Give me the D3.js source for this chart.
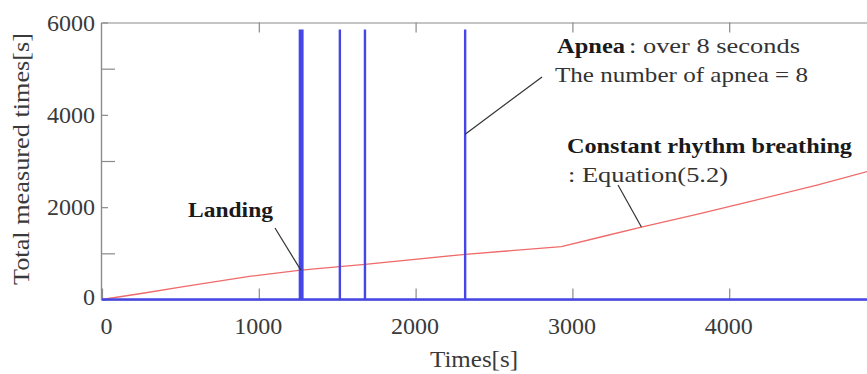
<!DOCTYPE html>
<html>
<head>
<meta charset="utf-8">
<script src="https://cdn.jsdelivr.net/npm/d3@7"></script>
<style>
  body { margin: 0; background: #fff; }
  svg { display: block; }
  text { font-family: "Liberation Serif", "DejaVu Serif", serif; }
</style>
</head>
<body>
<div id="chart"></div>
<script>
const breathTimes = [0, 250, 520, 950, 1268, 1517, 1677, 2316, 2930, 3200, 3440, 3800, 4130, 4560, 4900];
const breathTotals = [0, 130, 280, 505, 635, 711, 762, 979, 1144, 1370, 1570, 1850, 2118, 2480, 2790];

// apnea spikes (over 8 seconds), overlapping ones near 1270
const apneaTimes = [1262, 1270, 1278, 1517, 1677, 2316];
const apneaHeight = 5850;

const xTicks = [0, 1000, 2000, 3000, 4000];
const yTicks = [0, 2000, 4000, 6000];
const yMinorTicks = [1000, 3000, 5000];

const svgWidth = 867;
const svgHeight = 374;

const svg = d3.select("#chart")
    .append("svg")
    .attr("width", svgWidth)
    .attr("height", svgHeight);

const x = d3.scaleLinear()
    .domain([0, 5000])
    .range([102, 886]);

const y = d3.scaleLinear()
    .domain([0, 6000])
    .range([299.5, 22.5]);

const axisColor = "#8a8a8a";
const labelColor = "#3a3a3a";
const fmt = d3.format("d");

// top border with inward ticks
const topAxis = svg.append("g")
    .attr("transform", `translate(0, ${y(6000)})`)
    .call(d3.axisTop(x).tickValues([1000, 2000, 3000, 4000]).tickSizeInner(-10).tickSizeOuter(0).tickFormat(""));

// bottom axis
const bottomAxis = svg.append("g")
    .attr("transform", `translate(0, ${y(0)})`)
    .call(d3.axisBottom(x).tickValues(xTicks).tickSizeInner(-11).tickSizeOuter(0).tickPadding(17).tickFormat(fmt));

// left axis, labelled ticks short, odd thousands longer
const leftAxis = svg.append("g")
    .attr("transform", `translate(101, 0)`)
    .call(d3.axisLeft(y).tickValues(yTicks).tickSizeInner(-7).tickSizeOuter(0).tickPadding(6).tickFormat(fmt));

const leftMinor = svg.append("g")
    .attr("transform", `translate(101, 0)`)
    .call(d3.axisLeft(y).tickValues(yMinorTicks).tickSizeInner(-14).tickSizeOuter(0).tickFormat(""));

[topAxis, bottomAxis, leftAxis, leftMinor].forEach(g => {
    g.selectAll("path, line").attr("stroke", axisColor).attr("stroke-width", 1.2);
    g.selectAll("text")
        .attr("fill", labelColor)
        .style("font-size", "24px")
        .style("font-family", "Liberation Serif");
});
leftAxis.select(".tick:first-of-type text").attr("dy", "0.2em");
bottomAxis.selectAll(".tick text").attr("dx", d => d === 0 ? 4 : -1);

// red line: total measured time
const redLine = d3.line()
    .x((d, i) => x(breathTimes[i]))
    .y(d => y(d));

svg.append("path")
    .datum(breathTotals)
    .attr("fill", "none")
    .attr("stroke", "#f06a6a")
    .attr("stroke-width", 1.3)
    .attr("d", redLine);

// blue line: apnea signal, zero except spikes
const bluePts = [[0, 0]];
apneaTimes.forEach(t => {
    bluePts.push([t, 0], [t, apneaHeight], [t, 0]);
});
bluePts.push([5000, 0]);

svg.append("path")
    .datum(bluePts)
    .attr("fill", "none")
    .attr("stroke", "#4646e6")
    .attr("stroke-width", 2.4)
    .attr("d", d3.line().x(d => x(d[0])).y(d => y(d[1])));

// axis titles
svg.append("text")
    .attr("transform", `translate(29, 159) rotate(-90)`)
    .attr("text-anchor", "middle")
    .attr("fill", labelColor)
    .style("font-size", "24px")
    .attr("textLength", 252)
    .attr("lengthAdjust", "spacingAndGlyphs")
    .text("Total measured times[s]");

svg.append("text")
    .attr("x", 474)
    .attr("y", 367)
    .attr("text-anchor", "middle")
    .attr("fill", labelColor)
    .style("font-size", "24px")
    .attr("textLength", 88)
    .attr("lengthAdjust", "spacingAndGlyphs")
    .text("Times[s]");

// annotations
const leaders = [
    { t: 1268, v: 635, x2: 275, y2: 228 },
    { t: 2316, v: 3580, x2: 542, y2: 77 },
    { t: 3440, v: 1570, x2: 618, y2: 185 }
];

svg.selectAll(".leader")
    .data(leaders)
    .enter()
    .append("line")
    .attr("class", "leader")
    .attr("x1", d => x(d.t))
    .attr("y1", d => y(d.v))
    .attr("x2", d => d.x2)
    .attr("y2", d => d.y2)
    .attr("stroke", "#333")
    .attr("stroke-width", 1.2);

const notes = [
    { text: "Landing", x: 188, y: 217, w: 85, bold: true },
    { text: "Apnea", x: 557, y: 53, w: 68, bold: true },
    { text: ": over 8 seconds", x: 629, y: 53, w: 171, bold: false },
    { text: "The number of apnea = 8", x: 555, y: 82, w: 253, bold: false },
    { text: "Constant rhythm breathing", x: 567, y: 153, w: 285, bold: true },
    { text: ": Equation(5.2)", x: 568, y: 182, w: 160, bold: false }
];

svg.selectAll(".note")
    .data(notes)
    .enter()
    .append("text")
    .attr("class", "note")
    .attr("x", d => d.x)
    .attr("y", d => d.y)
    .attr("fill", d => d.bold ? "#1a1a1a" : "#333")
    .style("font-size", "22px")
    .style("font-weight", d => d.bold ? "bold" : "normal")
    .attr("textLength", d => d.w)
    .attr("lengthAdjust", "spacingAndGlyphs")
    .text(d => d.text);
</script>
</body>
</html>
